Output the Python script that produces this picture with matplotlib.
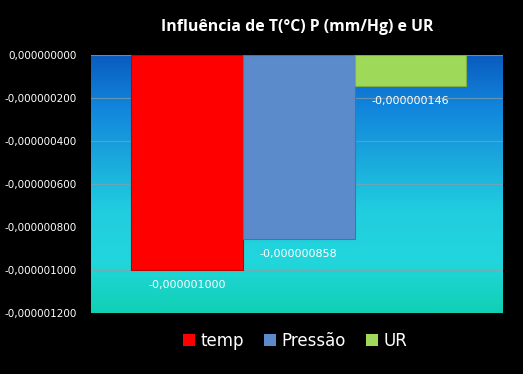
import matplotlib
matplotlib.use("Agg")
import matplotlib.pyplot as plt
import numpy as np
from matplotlib.colors import LinearSegmentedColormap

series = ["temp", "Pressão", "UR"]
values = [-0.000001000, -0.000000858, -0.000000146]
colors = ["#ff0000", "#5b8bca", "#9fd95a"]
yticks = [0, -0.0000002, -0.0000004, -0.0000006, -0.0000008, -0.000001, -0.0000012]
title = "Influência de T(°C) P (mm/Hg) e UR"

def fmt(v):
    s = f"{v:.9f}".replace(".", ",")
    if s.startswith("-0,000000000"):
        s = s[1:]
    return s

fig = plt.figure(figsize=(5.23, 3.74), dpi=100, facecolor="black")
ax = fig.add_axes([91/523, 1-313/374, (503-91)/523, (313-55)/374])
ax.set_facecolor("black")

cmap = LinearSegmentedColormap.from_list("bg", ["#0a5cbe", "#1185dc", "#1aa8dc", "#20cde0", "#22d6dc", "#10d0b4"])
grad = np.linspace(0, 1, 256).reshape(-1, 1)
ax.imshow(grad, extent=[0, 1, 0, 1], transform=ax.transAxes, aspect="auto", cmap=cmap, zorder=0, origin="upper")

for yv in yticks:
    ax.axhline(yv, color="#8aa0a8", lw=0.8, alpha=0.7, zorder=1)

x = np.arange(len(series)) - 1
ax.bar(x, values, width=1.0, color=colors, edgecolor=["#c00000", "#4a72a8", "#7fb044"], linewidth=0.8, zorder=2)
for c, n in zip(colors, series):
    ax.bar([np.nan], [0], color=c, label=n)
for xi, v in zip(x, values):
    ax.text(xi, v - 0.000000045, fmt(v), ha="center", va="top", color="white", fontsize=8, zorder=3)

ax.set_xlim(-1.86, 1.83)
ax.set_ylim(-0.0000012, 0)
ax.set_yticks(yticks)
ax.set_yticklabels([fmt(v) for v in yticks], color="white", fontsize=7.5)
ax.tick_params(axis="y", length=0, pad=10)
ax.set_xticks([])
for s in ax.spines.values():
    s.set_visible(False)

fig.text(297/523, 1-27/374, title, ha="center", va="center", color="white", fontsize=11.4, fontweight="bold", family="Open Sans")

leg = fig.legend(loc="center", bbox_to_anchor=(295/523, 1-341/374), ncol=3, frameon=False,
                 fontsize=12, handlelength=0.75, handleheight=0.75, handletextpad=0.3, columnspacing=1.2)
for t in leg.get_texts():
    t.set_color("white")

fig.savefig("out.png", dpi=100, facecolor="black")
